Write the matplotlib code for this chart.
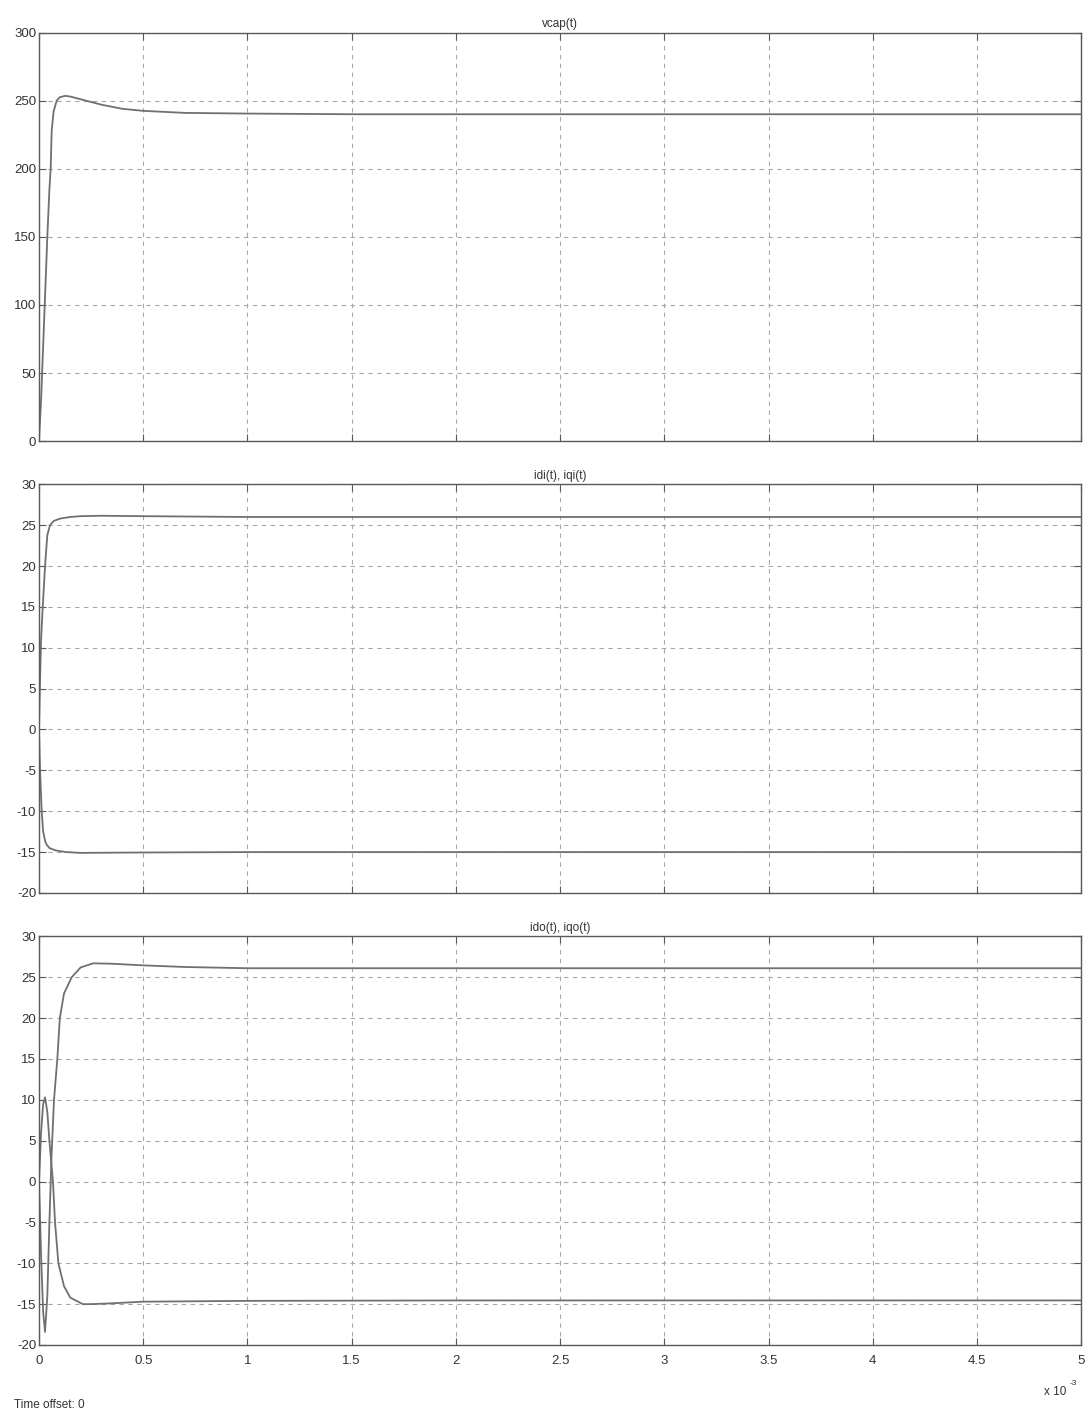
import matplotlib
matplotlib.use("Agg")
import matplotlib.pyplot as plt

plt.rcParams["font.family"] = ["Liberation Sans", "DejaVu Sans"]
plt.rcParams["axes.unicode_minus"] = False

# time in ms (axis shown as x 10^-3 s)
t_vcap = [0, 0.01, 0.02, 0.03, 0.04, 0.05, 0.056, 0.061, 0.07, 0.085, 0.1, 0.125,
          0.15, 0.2, 0.3, 0.4, 0.5, 0.7, 1.0, 1.5, 5.0]
vcap = [0, 30, 70, 110, 150, 185, 200, 228, 242, 250, 252.5, 253.5,
        253, 251, 247, 244, 242.5, 241, 240.5, 240, 240]

t_idi = [0, 0.005, 0.01, 0.018, 0.029, 0.04, 0.053, 0.07, 0.1, 0.15, 0.2, 0.3, 0.5, 1.0, 5.0]
idi = [0, 6, 11, 15, 20, 23.8, 25, 25.5, 25.8, 26.0, 26.1, 26.15, 26.1, 26.0, 26.0]
t_iqi = [0, 0.005, 0.013, 0.02, 0.03, 0.037, 0.05, 0.08, 0.13, 0.2, 0.5, 1.0, 5.0]
iqi = [0, -5, -10, -12.5, -13.7, -14.1, -14.5, -14.8, -15.0, -15.1, -15.05, -15.0, -15.0]

t_ido = [0, 0.01, 0.02, 0.029, 0.04, 0.05, 0.06, 0.072, 0.088, 0.1, 0.12, 0.157,
         0.2, 0.26, 0.35, 0.5, 0.7, 1.0, 1.5, 5.0]
ido = [0, -9, -16, -18.4, -14, -5, 3, 10, 15, 20, 23, 25,
       26.2, 26.7, 26.65, 26.45, 26.25, 26.1, 26.1, 26.1]
t_iqo = [0, 0.01, 0.02, 0.029, 0.04, 0.05, 0.06, 0.067, 0.077, 0.093, 0.12, 0.15,
         0.21, 0.25, 0.35, 0.5, 1.0, 2.0, 5.0]
iqo = [0, 6, 9.5, 10.3, 8.5, 5, 2, 0, -5, -10, -12.8, -14.2,
       -15, -15.0, -14.9, -14.7, -14.6, -14.55, -14.55]

x_ticks = [0, 0.5, 1, 1.5, 2, 2.5, 3, 3.5, 4, 4.5, 5]
x_labels = ["0", "0.5", "1", "1.5", "2", "2.5", "3", "3.5", "4", "4.5", "5"]

line_col = "#707070"
frame_col = "#5a5a5a"

fig = plt.figure(figsize=(10.89, 14.14), dpi=100)
left, width, height = 0.0358, 0.957, 0.289
bottoms = [0.688, 0.3685, 0.0488]

panels = [
    ("vcap(t)", [(t_vcap, vcap)], (0, 300), range(0, 301, 50)),
    ("idi(t), iqi(t)", [(t_idi, idi), (t_iqi, iqi)], (-20, 30), range(-20, 31, 5)),
    ("ido(t), iqo(t)", [(t_ido, ido), (t_iqo, iqo)], (-20, 30), range(-20, 31, 5)),
]

for i, (title, series, ylim, yticks) in enumerate(panels):
    ax = fig.add_axes([left, bottoms[i], width, height])
    for t, y in series:
        ax.plot(t, y, color=line_col, linewidth=1.3)
    ax.set_xlim(0, 5)
    ax.set_ylim(*ylim)
    ax.set_yticks(list(yticks))
    ax.set_xticks(x_ticks)
    if i == 2:
        ax.set_xticklabels(x_labels)
    else:
        ax.set_xticklabels([])
    ax.grid(True, color="#a8a8a8", linestyle=(0, (4, 4)), linewidth=0.8)
    ax.tick_params(direction="in", length=5, width=0.8, color=frame_col,
                   labelsize=9.5, labelcolor="#333333", pad=2,
                   top=True, right=True)
    ax.tick_params(axis="x", pad=7)
    for sp in ax.spines.values():
        sp.set_color(frame_col)
        sp.set_linewidth(1.0)
    ax.set_title(title, fontsize=8.5, color="#333333", pad=4)

# axis multiplier, written with a plain hyphen like the original
fig.text(0.959, 0.0135, "x 10", fontsize=8.5, color="#333333")
fig.text(0.9825, 0.0205, "-3", fontsize=6, color="#333333")
fig.text(0.013, 0.0045, "Time offset: 0", fontsize=8.5, color="#333333")

fig.savefig("out.png", dpi=100)
